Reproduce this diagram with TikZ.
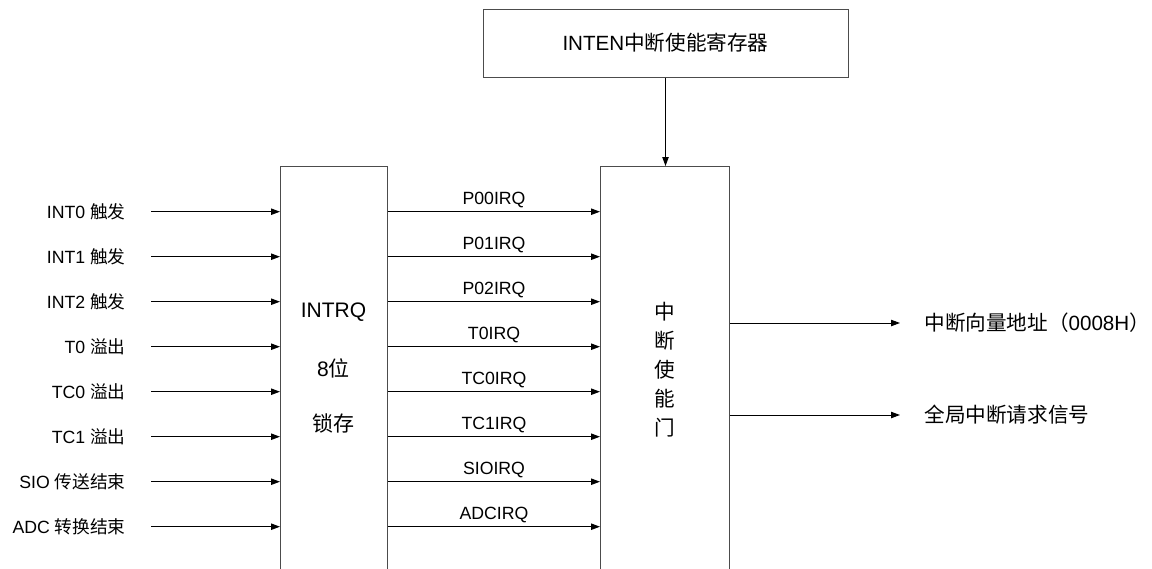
\documentclass[tikz,border=0pt]{standalone}
\usepackage{fontspec}
\setmainfont{Liberation Sans}
\newfontfamily\cjk{Noto Sans CJK SC}
\usetikzlibrary{arrows.meta}

\tikzset{
  box/.style={draw=black!70, line width=0.5pt, inner sep=0pt},
  sig/.style={-{Triangle[length=4.5pt,width=3.2pt]}, line width=0.5pt},
  small/.style={font=\fontsize{8.85pt}{10pt}\selectfont, inner sep=0.75pt},
  big/.style={font=\fontsize{10.3pt}{12pt}\selectfont, inner sep=0.75pt},
}

\begin{document}
\begin{tikzpicture}[x=0.5pt,y=0.5pt,yscale=-1]
\path[use as bounding box] (0,0) rectangle (1152,568);
\clip (0,0) rectangle (1152,568);
%Boxes
\node[box, big, minimum width=182.5pt, minimum height=34pt] (inten) at (665.5,43) {INTEN{\cjk 中断使能寄存器}};
\node[box, minimum width=53.5pt, minimum height=220pt, anchor=north west] (latch) at (280,166) {};
\node[box, minimum width=64.5pt, minimum height=220pt, anchor=north west] (gate) at (600,166) {};
\draw[sig] (inten.south) -- (inten.south |- gate.north);
%Text
\node[big, font=\fontsize{10.5pt}{12pt}\selectfont] (intrq) at (333.5,312) {INTRQ};
\node[big, font=\fontsize{10.5pt}{12pt}\selectfont] (bits) at (333.5,368) {8{\cjk 位}};
\node[big, font=\fontsize{10.5pt}{12pt}\selectfont] (store) at (333.5,423) {{\cjk 锁存}};
\node[big, align=center, font=\fontsize{10.3pt}{14.5pt}\selectfont\cjk] (gatetext) at (665,369.5) {中\\断\\使\\能\\门};
%Inputs
\foreach \src/\irq [count=\i] in {{INT0 {\cjk 触发}}/P00IRQ, {INT1 {\cjk 触发}}/P01IRQ, {INT2 {\cjk 触发}}/P02IRQ, {T0 {\cjk 溢出}}/T0IRQ, {TC0 {\cjk 溢出}}/TC0IRQ, {TC1 {\cjk 溢出}}/TC1IRQ, {SIO {\cjk 传送结束}}/SIOIRQ, {ADC {\cjk 转换结束}}/ADCIRQ}{
  \node[small, anchor=east] (in\i) at (127.5,{211.7+45*(\i-1)}) {\src};
  \coordinate (from\i) at (151,{211.7+45*(\i-1)});
  \draw[sig] (from\i) -- (latch.west |- from\i);
  \draw[sig] (latch.east |- from\i) -- node[small, above=0.8pt] (irq\i) {\irq} (gate.west |- from\i);
}
%Outputs
\node[big, anchor=west] (vec) at (922.5,323) {{\cjk 中断向量地址（}0008H{\cjk ）}};
\node[big, anchor=west] (req) at (922.5,415) {{\cjk 全局中断请求信号}};
\draw[sig] (gate.east |- vec.west) -- ([xshift=-11.25pt]vec.west);
\draw[sig] (gate.east |- req.west) -- ([xshift=-11.25pt]req.west);
\end{tikzpicture}
\end{document}
